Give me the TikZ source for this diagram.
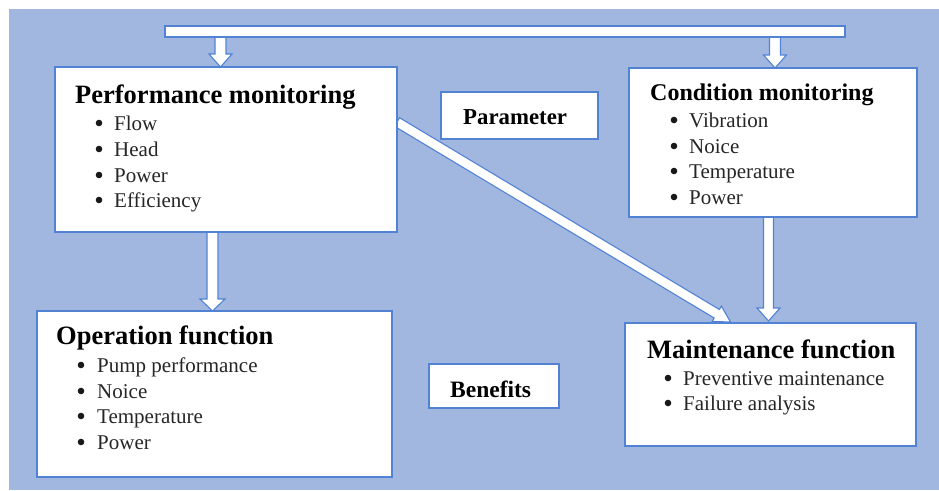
\documentclass[tikz,border=0pt]{standalone}
\usepackage{fontspec}
\setmainfont{Liberation Serif}
\usetikzlibrary{calc}

\definecolor{bgblue}{RGB}{161,183,224}
\definecolor{edgeblue}{RGB}{82,130,212}

\tikzset{
  panel/.style={draw=edgeblue, line width=1.3pt, fill=white, inner sep=0pt,
                outer sep=0pt, anchor=north west},
  heading/.style={font=\fontsize{26.5}{30}\selectfont\bfseries, inner sep=0pt, anchor=base west},
  entry/.style={font=\fontsize{21}{25}\selectfont, text=black!85, inner sep=0pt, anchor=base west},
  flow/.style={draw=edgeblue, line width=1.1pt, fill=white, line join=miter},
  dot/.style={fill=black!90},
}

% hollow block arrow: #1 start, #2 tip, #3 half shaft width, #4 half head width, #5 head length
\newcommand\blockarrow[5]{%
  \coordinate (ba-h) at ($(#2)!#5!(#1)$);
  \draw[flow] ($(#1)!#3!90:(#2)$) -- ($(ba-h)!#3!90:(#2)$) -- ($(ba-h)!#4!90:(#2)$)
    -- (#2) -- ($(ba-h)!#4!-90:(#2)$) -- ($(ba-h)!#3!-90:(#2)$)
    -- ($(#1)!#3!-90:(#2)$) -- cycle;
}

\begin{document}
\begin{tikzpicture}[x=1pt, y=-1pt]
  \useasboundingbox (0,0) rectangle (939,490);
  \fill[white] (0,0) rectangle (939,490);
  \fill[bgblue] (9,9) rectangle (939,490);

  % panels (placed first so the connectors can refer to them)
  \path
    node[panel, minimum width=342pt, minimum height=165pt] (perf) at (55,67) {}
    node[panel, minimum width=288pt, minimum height=149pt] (cond) at (629,68) {}
    node[panel, minimum width=355pt, minimum height=166pt] (oper) at (37,311) {}
    node[panel, minimum width=291pt, minimum height=123pt] (maint) at (625,323) {}
    node[panel, minimum width=157pt, minimum height=47pt] (param) at (441,92) {}
    node[panel, minimum width=130pt, minimum height=44pt] (bene) at (429,364) {}
    node[panel, minimum width=680pt, minimum height=11pt] (bar) at (165,26) {};

  % connectors
  \coordinate (t1) at ($(perf.north)+(-5.5,0)$);
  \coordinate (s1) at (bar.south -| t1);
  \coordinate (t2) at ($(cond.north)+(2,0)$);
  \coordinate (s2) at (bar.south -| t2);
  \coordinate (t3) at ($(oper.north)+(-2,0)$);
  \coordinate (s3) at (perf.south -| t3);
  \coordinate (t4) at ($(maint.north)+(-2,-2)$);
  \coordinate (s4) at (cond.south -| t4);
  \coordinate (s5) at ($(perf.east)+(0,-27.5)$);
  \coordinate (t5) at ($(maint.north)+(-40,-1)$);

  \blockarrow{s1}{t1}{5.5pt}{11.5pt}{13pt}
  \blockarrow{s2}{t2}{5.5pt}{11.5pt}{13pt}
  \blockarrow{s3}{t3}{5.5pt}{12.5pt}{12pt}
  \blockarrow{s4}{t4}{5pt}{11.5pt}{13pt}
  \blockarrow{s5}{t5}{5pt}{9pt}{16pt}

  % redraw panels over the connector ends
  \path
    node[panel, minimum width=342pt, minimum height=165pt] at (55,67) {}
    node[panel, minimum width=288pt, minimum height=149pt] at (629,68) {}
    node[panel, minimum width=355pt, minimum height=166pt] at (37,311) {}
    node[panel, minimum width=291pt, minimum height=123pt] at (625,323) {}
    node[panel, minimum width=680pt, minimum height=11pt] at (165,26) {};

  % Performance monitoring
  \node[heading] (perf-t) at (75,103) {Performance monitoring};
  \foreach [count=\k] \s/\y in {Flow/130, Head/156, Power/182, Efficiency/207} {
    \node[entry] (perf-\k) at (114,\y) {\s};
    \fill[dot] ($(perf-\k.base west)+(-15,-7)$) circle (3.3pt);
  }

  % Condition monitoring
  \node[heading, font=\fontsize{24}{28}\selectfont\bfseries] (cond-t) at (650,100) {Condition monitoring};
  \foreach [count=\k] \s/\y in {Vibration/127, Noice/153, Temperature/178, Power/204} {
    \node[entry] (cond-\k) at (689,\y) {\s};
    \fill[dot] ($(cond-\k.base west)+(-15,-7)$) circle (3.3pt);
  }

  % Operation function
  \node[heading] (oper-t) at (56,344) {Operation function};
  \foreach [count=\k] \s/\y in {Pump performance/372, Noice/398, Temperature/423, Power/449} {
    \node[entry] (oper-\k) at (97,\y) {\s};
    \fill[dot] ($(oper-\k.base west)+(-16,-7)$) circle (3.3pt);
  }

  % Maintenance function
  \node[heading] (maint-t) at (647,358) {Maintenance function};
  \foreach [count=\k] \s/\y in {Preventive maintenance/385, Failure analysis/410} {
    \node[entry] (maint-\k) at (683,\y) {\s};
    \fill[dot] ($(maint-\k.base west)+(-15,-7)$) circle (3.3pt);
  }

  % labels
  \node[heading, font=\fontsize{22.8}{26}\selectfont\bfseries] (param-t) at (463,124) {Parameter};
  \node[heading, font=\fontsize{23.5}{27}\selectfont\bfseries] (bene-t) at (450,397) {Benefits};
\end{tikzpicture}
\end{document}
